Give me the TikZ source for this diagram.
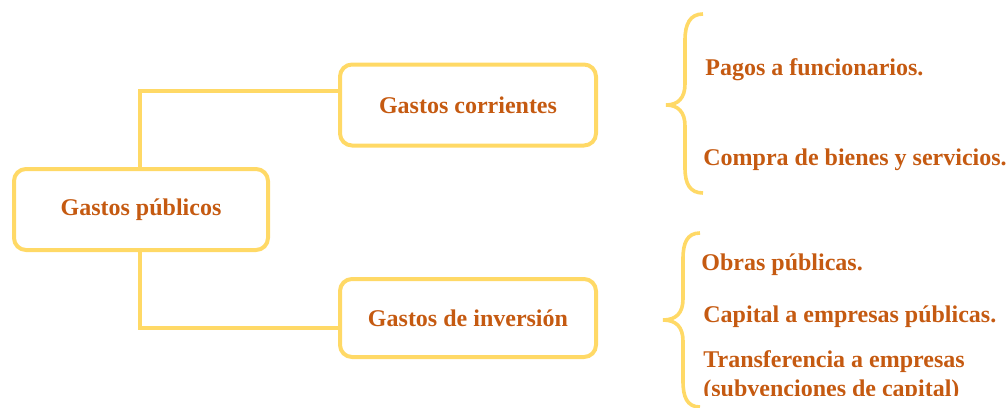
\documentclass[tikz,border=0pt]{standalone}
\usepackage{fontspec}
\setmainfont{Liberation Serif}
\definecolor{boxline}{HTML}{FFD966}
\definecolor{labeltext}{HTML}{C55A11}
\begin{document}
\begin{tikzpicture}[x=0.5pt, y=-0.5pt, font=\fontsize{12}{14.5}\selectfont\bfseries, text=labeltext]

% Styles
\tikzstyle{block} = [draw=boxline, line width=2pt, rectangle, rounded corners=6pt, minimum width=127pt, minimum height=40.5pt]
\tikzstyle{link}  = [draw=boxline, line width=2pt]
\tikzstyle{item}  = [anchor=base west, inner sep=0pt]

\useasboundingbox (0,0) rectangle (1006,407);

% Nodes
\node [block] (gp) at (141,209.5) {Gastos públicos};
\node [block, minimum width=128pt] (gc) at (468,105) {Gastos corrientes};
\node [block, minimum width=128pt, minimum height=39pt] (gi) at (468,318) {Gastos de inversión};

% Joints
\coordinate (j1) at (140,91);
\coordinate (j2) at (140,328);

% Connectors
\draw [link] (gp.north -| j1) -- (j1) -- (j1 -| gc.west);
\draw [link] (gp.south -| j2) -- (j2) -- (j2 -| gi.west);

% Braces
\draw [link, line width=1.8pt] (703,14) .. controls (690,14) and (685,24) .. (685,40)
  -- (685,84) .. controls (685,98) and (678,105) .. (666,105)
  .. controls (678,105) and (685,112) .. (685,126)
  -- (685,168) .. controls (685,184) and (690,193) .. (703,193);
\draw [link, line width=1.8pt] (700,233) .. controls (687,233) and (683,243) .. (683,259)
  -- (683,299) .. controls (683,313) and (676,320) .. (663,320)
  .. controls (676,320) and (683,327) .. (683,341)
  -- (683,381) .. controls (683,397) and (687,407) .. (700,407);

% Items
\node [item] (pf) at (705,75) {Pagos a funcionarios.};
\node [item] (cb) at (703,165) {Compra de bienes y servicios.};
\node [item] (op) at (701,270) {Obras públicas.};
\node [item] (ce) at (703,322) {Capital a empresas públicas.};
\begin{scope}
  \clip (695,335) rectangle (1006,395);
  \node [item] (te1) at (703,367) {Transferencia a empresas};
  \node [item] (te2) at (703,396) {(subvenciones de capital)};
\end{scope}

\end{tikzpicture}
\end{document}
